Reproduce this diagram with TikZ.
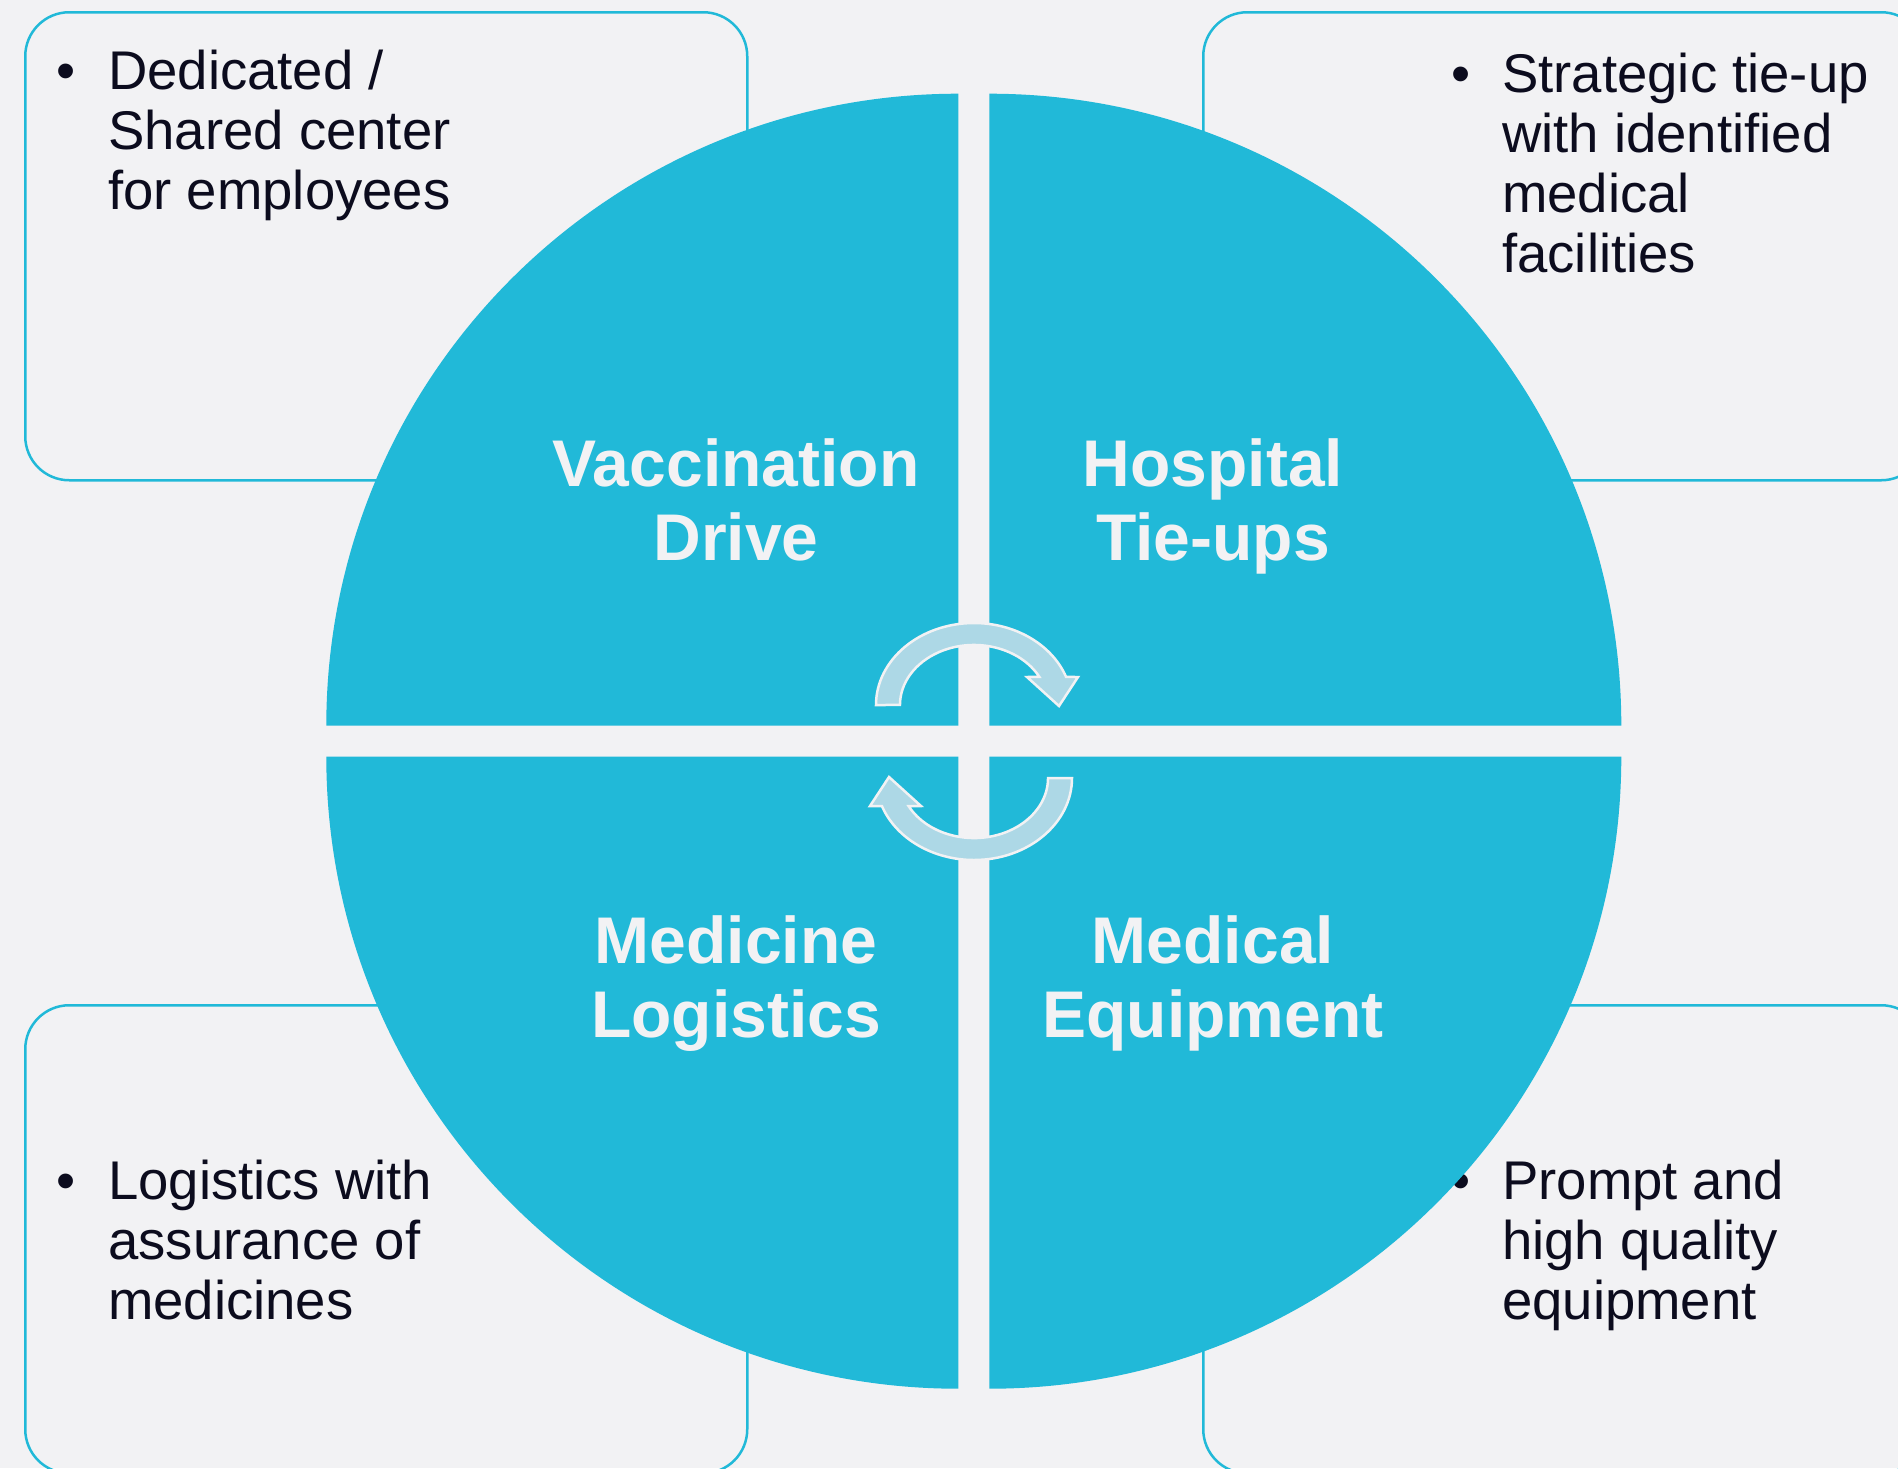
\documentclass[tikz,border=0pt]{standalone}
\usepackage{fontspec}
\setmainfont{Liberation Sans}
\definecolor{tealq}{HTML}{21B9D8}
\definecolor{bgc}{HTML}{F2F2F4}
\definecolor{ink}{HTML}{0C0C1E}
\definecolor{arrowfill}{HTML}{ADD8E6}
\begin{document}
\begin{tikzpicture}[x=1pt,y=-1pt,
  infobox/.style={draw=tealq, line width=2.5pt, rounded corners=44pt, inner sep=0pt,
    minimum width=722pt, minimum height=468pt, anchor=north west},
  bullettext/.style={text=ink, font=\fontsize{54.5}{60}\selectfont, align=left, inner sep=0pt, anchor=base west},
  bulletdot/.style={text=ink, font=\fontsize{54.5}{60}\selectfont, inner sep=0pt, anchor=base},
  quadrant/.style={fill=tealq},
  qlabel/.style={text=bgc, font=\fontsize{66}{74}\selectfont\bfseries, align=center, inner sep=0pt, anchor=base},
  cyclearrow/.style={fill=arrowfill, draw=bgc, line width=2.5pt, line join=miter}]
% background / bounding box
\fill[bgc] (0,0) rectangle (1898,1468);
\useasboundingbox (0,0) rectangle (1898,1468);

% boxes
\node[infobox] (tlbox) at (24,11) {};
\node[infobox] (trbox) at (1202,11) {};
\node[infobox] (blbox) at (24,1004) {};
\node[infobox] (brbox) at (1202,1004) {};

% box texts (base anchor = baseline of the last line)
\node[bulletdot] (tldot) at (66,89) {•};
\node[bullettext] (tltext) at (108,209) {Dedicated /\\Shared center\\for employees};
\node[bulletdot] (trdot) at (1461,92) {•};
\node[bullettext] (trtext) at (1502,272) {Strategic tie-up\\with identified\\medical\\facilities};
\node[bulletdot] (bldot) at (66,1199) {•};
\node[bullettext] (bltext) at (108,1319) {Logistics with\\assurance of\\medicines};
\node[bulletdot] (brdot) at (1461,1199) {•};
\node[bullettext] (brtext) at (1502,1319) {Prompt and\\high quality\\equipment};

% quadrants
\path[quadrant] (958.3,725.7) -- ++(-632,0) arc[start angle=180, end angle=270, radius=632] -- cycle;
\path[quadrant] (989.3,725.7) -- ++(0,-632) arc[start angle=270, end angle=360, radius=632] -- cycle;
\path[quadrant] (958.3,756.7) -- ++(-632,0) arc[start angle=180, end angle=90, radius=632] -- cycle;
\path[quadrant] (989.3,756.7) -- ++(632,0) arc[start angle=0, end angle=90, radius=632] -- cycle;

% labels (base anchor = baseline of the second line)
\node[qlabel] (vacc) at (736,560) {Vaccination\\Drive};
\node[qlabel] (hosp) at (1213,560) {Hospital\\Tie-ups};
\node[qlabel] (medi) at (736,1037) {Medicine\\Logistics};
\node[qlabel] (equip) at (1213,1037) {Medical\\Equipment};

% cycle arrows
\path[cyclearrow] (876,705) arc[start angle=180, end angle=340, x radius=98, y radius=82]
  -- (1078,677) -- (1059,706) -- (1027,677) -- (1039.3,676.8)
  arc[start angle=332, end angle=180, x radius=74, y radius=60] -- cycle;
\path[cyclearrow, rotate around={180:(974,741.5)}] (876,705) arc[start angle=180, end angle=340, x radius=98, y radius=82]
  -- (1078,677) -- (1059,706) -- (1027,677) -- (1039.3,676.8)
  arc[start angle=332, end angle=180, x radius=74, y radius=60] -- cycle;
\end{tikzpicture}
\end{document}
